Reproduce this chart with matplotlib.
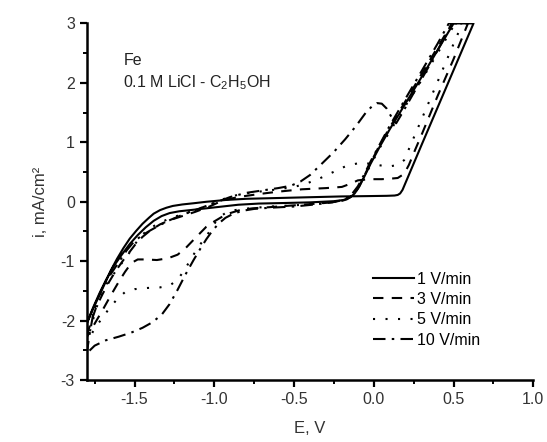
import matplotlib
matplotlib.use('Agg')
import matplotlib.pyplot as plt
from matplotlib.ticker import MultipleLocator

plt.rcParams['font.family'] = ['Liberation Sans', 'DejaVu Sans']
plt.rcParams['mathtext.fontset'] = 'custom'
plt.rcParams['mathtext.rm'] = 'Liberation Sans'
plt.rcParams['mathtext.default'] = 'regular'

# 1 V/min (forward then reverse, one closed loop)
e_1 = [-1.80, -1.76, -1.72, -1.68, -1.65, -1.61, -1.57, -1.53, -1.49, -1.45, -1.41, -1.38,
       -1.34, -1.30, -1.26, -1.20, -1.13, -1.05, -0.93, -0.80, -0.65, -0.50, -0.35, -0.20,
       -0.05, 0.08, 0.13, 0.15, 0.165, 0.18, 0.30, 0.45, 0.625,
       0.50, 0.40, 0.30, 0.20, 0.10, 0.04, -0.02, -0.06, -0.09, -0.12, -0.15, -0.19, -0.25,
       -0.40, -0.55, -0.72, -0.85, -0.95, -1.05, -1.15, -1.22, -1.28, -1.33, -1.38, -1.43,
       -1.48, -1.53, -1.58, -1.63, -1.68, -1.72, -1.76, -1.80]
i_1 = [-2.05, -1.80, -1.57, -1.34, -1.16, -0.96, -0.78, -0.62, -0.49, -0.37, -0.27, -0.20,
       -0.14, -0.10, -0.07, -0.045, -0.025, 0.0, 0.03, 0.05, 0.06, 0.07, 0.08, 0.09,
       0.095, 0.10, 0.105, 0.115, 0.14, 0.20, 0.96, 1.90, 3.0,
       3.0, 2.55, 2.10, 1.66, 1.22, 0.94, 0.64, 0.42, 0.26, 0.14, 0.07, 0.03, 0.01,
       -0.01, -0.02, -0.03, -0.05, -0.08, -0.11, -0.14, -0.16, -0.19, -0.24, -0.32, -0.43,
       -0.56, -0.71, -0.89, -1.08, -1.32, -1.54, -1.78, -2.05]

# 3 V/min
e_3 = [-1.80, -1.77, -1.74, -1.70, -1.66, -1.62, -1.57, -1.53, -1.49, -1.45, -1.40, -1.34,
       -1.28, -1.20, -1.12, -1.03, -0.95, -0.85, -0.72, -0.60, -0.45, -0.30, -0.20, -0.15,
       -0.10, -0.03, 0.05, 0.11, 0.15, 0.19, 0.22, 0.26, 0.30, 0.40, 0.50, 0.59,
       0.49, 0.40, 0.30, 0.20, 0.10, 0.03, -0.03, -0.07, -0.10, -0.13, -0.17, -0.22, -0.35,
       -0.50, -0.65, -0.76, -0.84, -0.90, -0.95, -1.00, -1.05, -1.09, -1.13, -1.18, -1.23,
       -1.29, -1.36, -1.43, -1.48, -1.52, -1.56, -1.60, -1.65, -1.70, -1.75, -1.80]
i_3 = [-2.25, -2.00, -1.77, -1.55, -1.35, -1.17, -0.98, -0.84, -0.70, -0.59, -0.48, -0.38,
       -0.31, -0.24, -0.17, -0.08, 0.02, 0.08, 0.13, 0.17, 0.21, 0.23, 0.25, 0.30,
       0.36, 0.38, 0.38, 0.39, 0.40, 0.47, 0.62, 0.88, 1.13, 1.78, 2.40, 3.0,
       3.0, 2.60, 2.15, 1.70, 1.25, 0.92, 0.60, 0.38, 0.22, 0.11, 0.04, 0.0, -0.03,
       -0.06, -0.09, -0.11, -0.14, -0.19, -0.25, -0.33, -0.42, -0.53, -0.64, -0.78, -0.89,
       -0.95, -0.98, -0.97, -0.97, -1.03, -1.18, -1.35, -1.58, -1.82, -2.05, -2.28]

# 5 V/min
e_5 = [-1.80, -1.76, -1.72, -1.68, -1.64, -1.60, -1.55, -1.50, -1.45, -1.40, -1.34, -1.27,
       -1.20, -1.12, -1.03, -0.95, -0.85, -0.72, -0.60, -0.50, -0.43, -0.35, -0.27, -0.175,
       -0.08, 0.0, 0.09, 0.15, 0.19, 0.23, 0.30, 0.40, 0.48, 0.555,
       0.51, 0.40, 0.30, 0.20, 0.10, 0.04, -0.02, -0.06, -0.10, -0.13, -0.17, -0.22, -0.35,
       -0.50, -0.65, -0.78, -0.87, -0.93, -0.97, -1.00, -1.03, -1.07, -1.11, -1.15, -1.19,
       -1.23, -1.28, -1.34, -1.42, -1.50, -1.56, -1.61, -1.66, -1.71, -1.76, -1.80]
i_5 = [-2.38, -1.98, -1.62, -1.40, -1.25, -1.10, -0.93, -0.72, -0.55, -0.44, -0.35, -0.27,
       -0.21, -0.14, -0.05, 0.04, 0.12, 0.17, 0.21, 0.25, 0.30, 0.38, 0.48, 0.60,
       0.66, 0.63, 0.59, 0.62, 0.70, 0.95, 1.39, 2.02, 2.53, 3.0,
       3.0, 2.50, 2.05, 1.62, 1.18, 0.92, 0.62, 0.42, 0.24, 0.12, 0.05, 0.01, -0.03,
       -0.06, -0.08, -0.11, -0.14, -0.19, -0.26, -0.37, -0.50, -0.65, -0.80, -0.98, -1.16,
       -1.31, -1.41, -1.44, -1.45, -1.47, -1.52, -1.64, -1.80, -1.98, -2.18, -2.38]

# 10 V/min
e_10 = [-1.80, -1.78, -1.76, -1.73, -1.69, -1.64, -1.60, -1.55, -1.50, -1.45, -1.40, -1.34,
        -1.28, -1.20, -1.10, -1.00, -0.90, -0.80, -0.70, -0.60, -0.52, -0.46, -0.40, -0.33,
        -0.25, -0.18, -0.11, -0.05, -0.01, 0.02, 0.05, 0.08, 0.11, 0.14, 0.18, 0.25, 0.35,
        0.49,
        0.47, 0.40, 0.30, 0.20, 0.10, 0.04, -0.02, -0.06, -0.10, -0.14, -0.18, -0.24, -0.35,
        -0.50, -0.65, -0.75, -0.82, -0.88, -0.93, -0.97, -1.01, -1.05, -1.09, -1.13, -1.18,
        -1.23, -1.28, -1.33, -1.39, -1.45, -1.52, -1.60, -1.68, -1.75, -1.80]
i_10 = [-2.55, -2.20, -1.90, -1.62, -1.38, -1.18, -1.02, -0.82, -0.66, -0.56, -0.48, -0.39,
        -0.31, -0.22, -0.12, -0.02, 0.08, 0.15, 0.19, 0.23, 0.27, 0.34, 0.45, 0.63,
        0.84, 1.05, 1.28, 1.50, 1.61, 1.66, 1.65, 1.57, 1.43, 1.32, 1.50, 1.83, 2.30,
        3.0,
        3.0, 2.66, 2.20, 1.74, 1.28, 0.98, 0.68, 0.46, 0.26, 0.12, 0.04, 0.0, -0.04,
        -0.08, -0.10, -0.12, -0.15, -0.20, -0.27, -0.36, -0.48, -0.63, -0.80, -0.98, -1.22,
        -1.48, -1.72, -1.90, -2.03, -2.12, -2.20, -2.27, -2.33, -2.42, -2.55]

labels = ['1 V/min', '3 V/min', '5 V/min', '10 V/min']

fig = plt.figure(figsize=(5.47, 4.42), dpi=100)
ax = fig.add_axes([0.1585, 0.140, 0.8165, 0.807])

lw = 1.5
ax.plot(e_1, i_1, color='black', lw=lw, linestyle='-', label=labels[0])
ax.plot(e_3, i_3, color='black', lw=lw, linestyle=(0, (5, 4)), label=labels[1])
ax.plot(e_5, i_5, color='black', lw=lw, linestyle=(0, (1, 5)), label=labels[2])
ax.plot(e_10, i_10, color='black', lw=lw, linestyle=(0, (6, 3, 1.2, 3)), label=labels[3])

ax.set_xlim(-1.8, 1.0)
ax.set_ylim(-3, 3)
ax.xaxis.set_minor_locator(MultipleLocator(0.25))
ax.yaxis.set_minor_locator(MultipleLocator(0.5))
ax.set_xticks([-1.5, -1.0, -0.5, 0.0, 0.5, 1.0])
ax.set_xticklabels(['-1.5', '-1.0', '-0.5', '0.0', '0.5', '1.0'])
ax.set_yticks([-3, -2, -1, 0, 1, 2, 3])
ax.set_yticklabels(['-3', '-2', '-1', '0', '1', '2', '3'])

for s in ['top', 'right']:
    ax.spines[s].set_visible(False)
for s in ['left', 'bottom']:
    ax.spines[s].set_linewidth(1.8)
ax.tick_params(which='major', direction='out', length=5, width=1.6, labelsize=11.5,
               colors='black', labelcolor='#333333')
ax.tick_params(which='minor', direction='out', length=3, width=1.4)

ax.set_xlabel('E, V', fontsize=12, color='#333333', labelpad=10)
ax.set_ylabel('i, mA/cm²', fontsize=12, color='#333333', labelpad=9)

ax.text(0.082, 0.883, 'Fe', transform=ax.transAxes, fontsize=11.5, color='#222222')
ax.text(0.082, 0.821, '0.1 M LiCl - C$_2$H$_5$OH', transform=ax.transAxes,
        fontsize=11.5, color='#222222')

ax.legend(loc='upper left', bbox_to_anchor=(0.615, 0.335), frameon=False, fontsize=11.5,
          handlelength=2.6, handletextpad=0.2, labelspacing=0.33, borderpad=0.2)

fig.savefig('out.png', dpi=100)
